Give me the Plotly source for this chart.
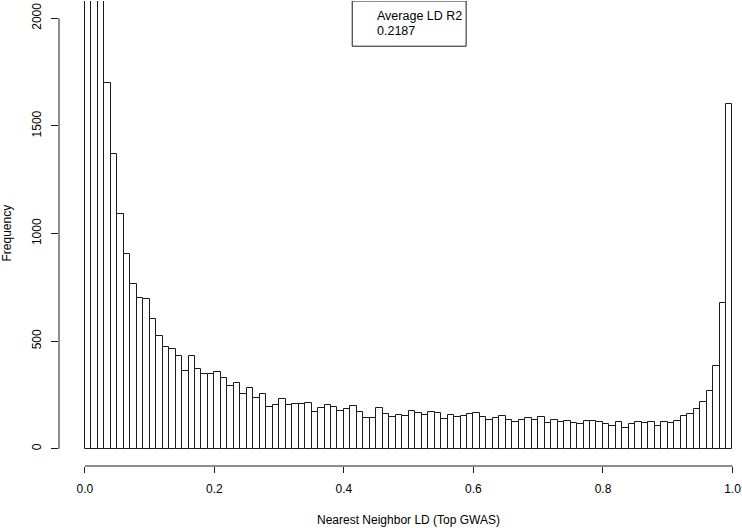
import numpy as np
import plotly.graph_objects as go

# histogram of nearest neighbour LD, 100 bins of width 0.01 on [0, 1]
bin_edges = np.linspace(0, 1, 101)
counts = [
    7500, 3800, 2600, 1700, 1367, 1089, 906, 767, 702, 694,
    603, 523, 474, 464, 429, 360, 431, 372, 349, 346,
    355, 330, 292, 304, 256, 282, 236, 256, 194, 205,
    230, 202, 207, 210, 211, 171, 188, 202, 196, 174,
    184, 198, 173, 145, 142, 189, 161, 147, 159, 154,
    174, 165, 156, 170, 165, 140, 156, 147, 151, 163,
    168, 148, 133, 144, 150, 134, 124, 133, 142, 136,
    147, 119, 133, 123, 131, 120, 116, 128, 130, 125,
    114, 108, 125, 97, 113, 125, 122, 125, 108, 124,
    122, 128, 151, 162, 185, 216, 270, 386, 677, 1600,
]
x_ticks = [0, 0.2, 0.4, 0.6, 0.8, 1.0]
x_ticktext = ["0.0", "0.2", "0.4", "0.6", "0.8", "1.0"]
y_ticks = [0, 500, 1000, 1500, 2000]
legend_lines = ["Average LD R2", "0.2187"]

centers = (bin_edges[:-1] + bin_edges[1:]) / 2
FONT = "Liberation Sans, Arial, Helvetica, sans-serif"
INK = "#1a1a1a"

fig = go.Figure()
fig.add_trace(go.Bar(
    x=centers, y=counts, width=0.01,
    marker=dict(color="white", line=dict(color=INK, width=1)),
    hoverinfo="x+y",
))

# R style detached axis lines
fig.add_shape(type="line", xref="x", yref="paper", x0=0, x1=1, y0=0, y1=0,
              line=dict(color=INK, width=1))
fig.add_shape(type="line", xref="paper", yref="y", x0=0, x1=0, y0=0, y1=2000,
              line=dict(color=INK, width=1))

# legend box at top
fig.add_shape(type="rect", xref="x", yref="y", x0=0.4128, x1=0.5887, y0=1870, y1=2080,
              line=dict(color=INK, width=1), fillcolor="rgba(0,0,0,0)")
for txt, yv in zip(legend_lines, [2009, 1940]):
    fig.add_annotation(text=txt, xref="x", yref="y", x=0.4475, y=yv,
                       xanchor="left", yanchor="middle", showarrow=False,
                       font=dict(family=FONT, size=12.5, color="black"))

fig.add_annotation(text="Nearest Neighbor LD (Top GWAS)", xref="x", yref="paper",
                   x=0.5, y=0, yshift=-54, xanchor="center", yanchor="middle",
                   showarrow=False, font=dict(family=FONT, size=12, color="black"))
fig.add_annotation(text="Frequency", xref="paper", yref="y", x=0, xshift=-53,
                   y=1000, textangle=-90, xanchor="center", yanchor="middle",
                   showarrow=False, font=dict(family=FONT, size=12, color="black"))

fig.update_xaxes(range=[-0.04, 1.0147], showgrid=False, zeroline=False, showline=False,
                 tickvals=x_ticks, ticktext=x_ticktext, ticks="outside", ticklen=6,
                 tickcolor=INK, tickwidth=1, ticklabelstandoff=6, automargin=False,
                 tickfont=dict(family=FONT, size=12, color="black"))
fig.update_yaxes(range=[-80, 2080], showgrid=False, zeroline=False, showline=False,
                 tickvals=y_ticks, ticks="outside", ticklen=7, tickangle=-90,
                 tickcolor=INK, tickwidth=1, ticklabelstandoff=5, automargin=False,
                 tickfont=dict(family=FONT, size=12, color="black"))

fig.update_layout(
    width=742, height=528,
    margin=dict(l=59, r=0, t=1, b=62),
    paper_bgcolor="white", plot_bgcolor="white",
    showlegend=False, bargap=0,
    font=dict(family=FONT, size=12, color="black"),
)

# drop the page's default body margin so the figure sits at the window origin
fig.write_html("out.html", config={"displayModeBar": False},
               post_script="document.body.style.margin='0';document.body.style.overflow='hidden';")
